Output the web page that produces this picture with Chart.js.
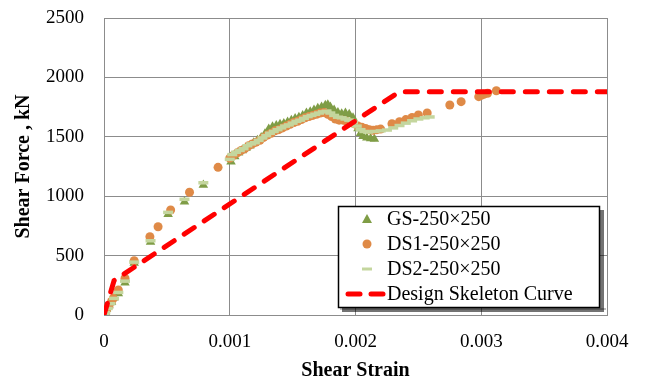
<!DOCTYPE html>
<html>
<head>
<meta charset="utf-8">
<script src="https://cdn.jsdelivr.net/npm/chart.js@4/dist/chart.umd.min.js"></script>
<style>
html,body{margin:0;padding:0;background:#fff;}
#wrap{width:645px;height:382px;position:relative;}
</style>
</head>
<body>
<div id="wrap"><canvas id="c" width="645" height="382"></canvas></div>
<script>
// ---- Data ----
const seriesNames = ["GS-250\u00d7250", "DS1-250\u00d7250", "DS2-250\u00d7250", "Design Skeleton Curve"];

const gsStrain = [0,0.00001,0.00002,0.00004,0.00006,0.00008,0.000114,0.000167,0.00024,0.00037,0.00051,0.00064,0.00079,0.00101,
  0.00104,0.00107,0.0011,0.00113,0.00116,0.00119,0.00122,0.00125,0.00128,0.00131,0.00134,0.00137,0.0014,0.00143,0.00146,0.00149,
  0.00152,0.00155,0.00158,0.00161,0.00164,0.00167,0.0017,0.00173,0.00176,0.00178,0.0018,0.00183,0.00186,0.00189,0.00192,0.00195,
  0.00198,0.002,0.00202,0.00204,0.00206,0.00209,0.00212,0.00215];
const gsForce = [0,25,50,80,110,145,182,272,437,615,848,954,1094,1290,
  1335,1365,1385,1405,1425,1450,1470,1495,1525,1565,1585,1595,1605,1612,1625,1640,
  1655,1665,1680,1700,1710,1725,1740,1750,1765,1770,1750,1725,1705,1695,1700,1690,
  1660,1610,1570,1530,1505,1492,1486,1482];

const ds1Strain = [0,0.00001,0.00002,0.00004,0.00006,0.000074,0.000114,0.000167,0.00024,0.000365,0.00043,0.00053,0.00068,0.000907,
  0.001,0.00103,0.00106,0.00109,0.00112,0.00115,0.00118,0.00121,0.00124,0.00127,0.0013,0.00133,0.00136,0.00139,0.00142,0.00145,
  0.00148,0.00151,0.00154,0.00157,0.0016,0.00163,0.00166,0.00169,0.00172,0.00175,0.00178,0.00181,0.00184,0.00187,0.0019,0.00193,
  0.00196,0.00199,0.00202,0.00205,0.00208,0.00211,0.00214,0.00217,0.0022,0.00229,0.00235,0.0024,0.00245,0.0025,0.00257,0.00275,
  0.00284,0.00298,0.003,0.00302,0.00305,0.00312];
const ds1Force = [0,20,45,80,115,140,210,309,457,659,743,884,1033,1243,
  1320,1345,1365,1385,1400,1425,1440,1455,1470,1495,1515,1530,1550,1560,1575,1590,
  1605,1620,1630,1645,1660,1670,1680,1690,1700,1705,1690,1670,1650,1640,1640,1630,
  1620,1610,1590,1580,1570,1560,1555,1560,1565,1610,1627,1645,1662,1684,1700,1768,
  1796,1838,1850,1858,1866,1888];

const ds2Strain = [0,0.00001,0.00003,0.00005,0.00008,0.000114,0.000167,0.00024,0.00037,0.00051,0.00064,0.00079,
  0.001,0.00102,0.00105,0.00108,0.00111,0.00114,0.00117,0.0012,0.00123,0.00126,0.00129,0.00132,0.00135,0.00138,0.00141,
  0.00144,0.00147,0.0015,0.00153,0.00156,0.00159,0.00162,0.00165,0.00168,0.00171,0.00174,0.00177,0.0018,0.00183,0.00186,
  0.00189,0.00192,0.00195,0.00198,0.00201,0.00204,0.00207,0.0021,0.00215,0.0022,0.00225,0.0023,0.00235,0.0024,0.00245,
  0.0025,0.00255,0.00259];
const ds2Force = [0,20,55,95,140,190,285,445,625,864,974,1113,
  1310,1350,1370,1385,1400,1425,1440,1450,1470,1490,1510,1530,1545,1560,1575,
  1590,1600,1615,1630,1640,1655,1670,1680,1690,1700,1710,1715,1700,1680,1665,
  1660,1650,1640,1620,1590,1560,1545,1540,1545,1550,1557,1575,1595,1615,1635,
  1650,1660,1667];

const designStrain = [0, 0.00008, 0.00235, 0.004];
const designForce  = [0, 290, 1880, 1880];

const xTicks = [0, 0.001, 0.002, 0.003, 0.004];
const yTicks = [0, 500, 1000, 1500, 2000, 2500];

// ---- Build ----
const pts = (xs, ys) => xs.map((x, i) => ({x: x, y: ys[i]}));
const COL_GS = '#7f9d46', COL_DS1 = '#df8a47', COL_DS2 = '#c4d69e', COL_RED = '#ff0000';
const SERIF = '"Liberation Serif", "Times New Roman", serif';
const GRID = '#8c8c8c';

const legendPlugin = {
  id: 'boxLegend',
  afterDraw(chart) {
    const ctx = chart.ctx;
    const x0 = 338, y0 = 206, w = 262, h = 102;
    ctx.save();
    // shadow
    ctx.fillStyle = 'rgba(0,0,0,0.55)';
    ctx.fillRect(x0 + 4, y0 + 4, w, h);
    ctx.fillStyle = 'rgba(0,0,0,0.25)';
    ctx.fillRect(x0 + 2, y0 + h, w + 4, 2);
    ctx.fillStyle = '#fff';
    ctx.fillRect(x0, y0, w, h);
    ctx.strokeStyle = '#000';
    ctx.lineWidth = 1.5;
    ctx.strokeRect(x0 + 0.5, y0 + 0.5, w - 1, h - 1);
    const rows = [219, 244, 269, 294];
    // markers
    const mx = 367;
    ctx.fillStyle = COL_GS;
    ctx.beginPath();
    ctx.moveTo(mx, rows[0] - 5); ctx.lineTo(mx + 5, rows[0] + 4); ctx.lineTo(mx - 5, rows[0] + 4); ctx.closePath(); ctx.fill();
    ctx.fillStyle = COL_DS1;
    ctx.beginPath(); ctx.arc(mx, rows[1], 4.5, 0, Math.PI * 2); ctx.fill();
    ctx.strokeStyle = COL_DS2; ctx.lineWidth = 3;
    ctx.beginPath(); ctx.moveTo(mx - 5, rows[2]); ctx.lineTo(mx + 5, rows[2]); ctx.stroke();
    ctx.strokeStyle = COL_RED; ctx.lineWidth = 5; ctx.lineCap = 'round';
    ctx.beginPath(); ctx.moveTo(348, rows[3]); ctx.lineTo(360, rows[3]); ctx.stroke();
    ctx.beginPath(); ctx.moveTo(371, rows[3]); ctx.lineTo(383, rows[3]); ctx.stroke();
    // text
    ctx.fillStyle = '#000';
    ctx.font = '20px ' + SERIF;
    ctx.textBaseline = 'middle';
    ctx.textAlign = 'left';
    for (let i = 0; i < 4; i++) ctx.fillText(seriesNames[i], 387, rows[i] + 1);
    ctx.restore();
  }
};

new Chart(document.getElementById('c'), {
  type: 'scatter',
  data: {
    datasets: [
      { label: seriesNames[3], data: pts(designStrain, designForce), showLine: true, borderColor: COL_RED,
        borderWidth: 5, borderDash: [12, 12], borderCapStyle: 'round', pointRadius: 0, order: 0, tension: 0 },
      { label: seriesNames[2], data: pts(ds2Strain, ds2Force), pointStyle: 'line', pointRadius: 5,
        borderColor: COL_DS2, backgroundColor: COL_DS2, pointBorderWidth: 3.5, order: 1 },
      { label: seriesNames[1], data: pts(ds1Strain, ds1Force), pointStyle: 'circle', pointRadius: 4.5,
        backgroundColor: COL_DS1, borderColor: COL_DS1, pointBorderWidth: 0, order: 2 },
      { label: seriesNames[0], data: pts(gsStrain, gsForce), pointStyle: 'triangle', pointRadius: 5.5,
        backgroundColor: COL_GS, borderColor: COL_GS, pointBorderWidth: 0, order: 3 }
    ]
  },
  options: {
    responsive: false,
    animation: false,
    events: [],
    layout: { padding: { top: 18, right: 38, left: 0, bottom: 0 } },
    plugins: { legend: { display: false }, tooltip: { enabled: false } },
    scales: {
      x: {
        type: 'linear', min: 0, max: 0.004,
        afterBuildTicks: s => { s.ticks = xTicks.map(v => ({value: v})); },
        afterFit: s => { s.height = 67; },
        grid: { color: GRID, lineWidth: 1, drawTicks: false, tickLength: 0 },
        border: { color: GRID, width: 1 },
        ticks: { color: '#000', font: { family: SERIF, size: 19 }, padding: 16,
                 callback: v => v === 0 ? '0' : String(v) },
        title: { display: true, text: 'Shear Strain', color: '#000',
                 font: { family: SERIF, size: 20, weight: 'bold', lineHeight: 1 }, padding: { top: 0, bottom: 1 } }
      },
      y: {
        type: 'linear', min: 0, max: 2500,
        afterBuildTicks: s => { s.ticks = yTicks.map(v => ({value: v})); },
        afterFit: s => { s.width = 104; s.paddingTop = 0; s.paddingBottom = 0; },
        grid: { color: GRID, lineWidth: 1, drawTicks: false, tickLength: 0 },
        border: { color: GRID, width: 1 },
        ticks: { color: '#000', font: { family: SERIF, size: 19 }, padding: 20,
                 callback: v => String(v) },
        title: { display: true, text: 'Shear Force , kN', color: '#000',
                 font: { family: SERIF, size: 20, weight: 'bold', lineHeight: 1 }, padding: { top: 14, bottom: 0 } }
      }
    }
  },
  plugins: [legendPlugin]
});
</script>
</body>
</html>
